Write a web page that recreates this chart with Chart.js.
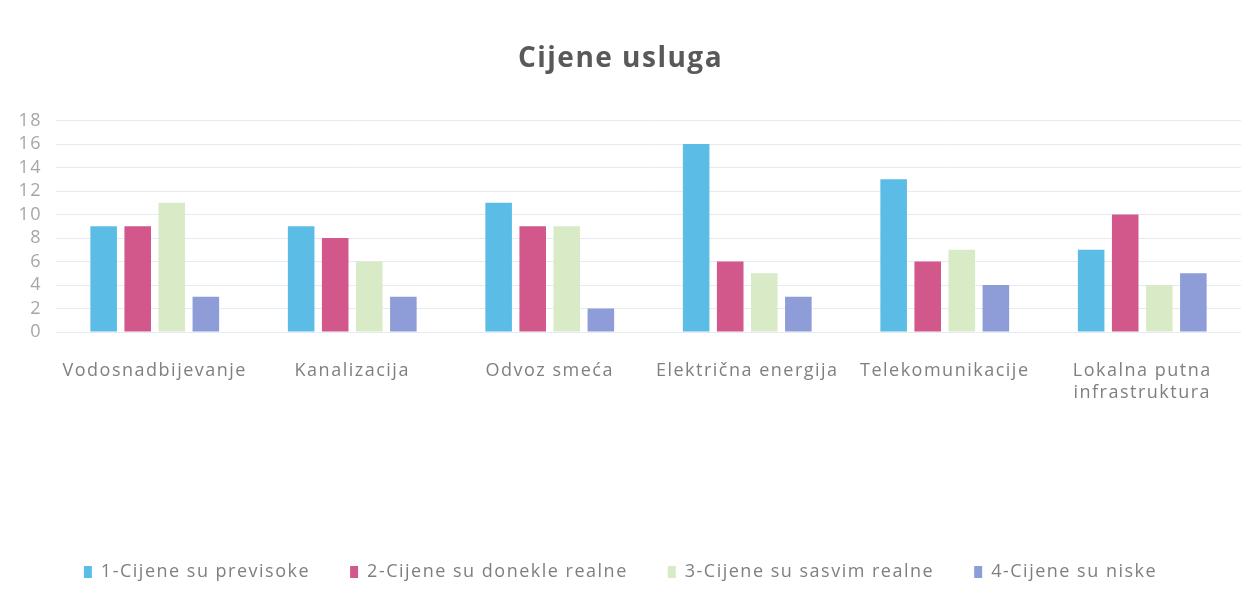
<!DOCTYPE html>
<html>
<head>
<meta charset="utf-8">
<script src="https://cdn.jsdelivr.net/npm/chart.js"></script>
<style>
  html, body { margin: 0; padding: 0; background: #ffffff; }
  #wrap { width: 1243px; height: 603px; position: relative; }
</style>
</head>
<body>
<div id="wrap"><canvas id="chart"></canvas></div>
<script>
// podaci
const categories = [
    'Vodosnadbijevanje',
    'Kanalizacija',
    'Odvoz smeća',
    'Električna energija',
    'Telekomunikacije',
    ['Lokalna putna', 'infrastruktura']
];
const seriesNames = [
    '1-Cijene su previsoke',
    '2-Cijene su donekle realne',
    '3-Cijene su sasvim realne',
    '4-Cijene su niske'
];
const previsoke = [9, 9, 11, 16, 13, 7];
const donekleRealne = [9, 8, 9, 6, 6, 10];
const sasvimRealne = [11, 6, 9, 5, 7, 4];
const niske = [3, 3, 2, 3, 4, 5];
const yTicks = [0, 2, 4, 6, 8, 10, 12, 14, 16, 18];

const colors = ['#5bbde6', '#d2588c', '#d9eac6', '#8e9dd8'];
const values = [previsoke, donekleRealne, sasvimRealne, niske];

const datasets = seriesNames.map((name, i) => ({
    label: name,
    data: values[i],
    backgroundColor: colors[i],
    borderWidth: 0,
    categoryPercentage: 0.69,
    barPercentage: 0.78
}));

const fontFamily = '"Open Sans", "DejaVu Sans", sans-serif';

// razmak između slova (skenirani tekst je razvučen)
const spacingPlugin = {
    id: 'spacing',
    beforeLayout(chart) { chart.ctx.letterSpacing = '1.5px'; },
    beforeDraw(chart) { chart.ctx.letterSpacing = '1.5px'; }
};

new Chart(document.getElementById('chart'), {
    type: 'bar',
    data: { labels: categories, datasets: datasets },
    plugins: [spacingPlugin],
    options: {
        responsive: true,
        maintainAspectRatio: false,
        animation: false,
        layout: { padding: { left: 0, right: 2, top: 0, bottom: 12 } },
        plugins: {
            title: {
                display: true,
                text: 'Cijene usluga',
                color: '#595959',
                font: { family: fontFamily, size: 28, weight: 'bold' },
                padding: { top: 42, bottom: 45 }
            },
            legend: {
                position: 'bottom',
                labels: {
                    color: '#7f7f7f',
                    font: { family: fontFamily, size: 18 },
                    boxWidth: 8,
                    boxHeight: 12,
                    padding: 40
                }
            },
            tooltip: { enabled: false }
        },
        scales: {
            x: {
                grid: { display: false },
                border: { display: false },
                ticks: {
                    color: '#7f7f7f',
                    font: { family: fontFamily, size: 18 },
                    padding: 20,
                    maxRotation: 0,
                    autoSkip: false
                },
                afterFit: (scale) => { scale.height = 191; }
            },
            y: {
                min: 0,
                max: 18,
                afterBuildTicks: (scale) => { scale.ticks = yTicks.map(v => ({ value: v })); },
                grid: { color: '#e6ebf1', drawTicks: false },
                border: { display: false },
                ticks: {
                    color: '#a6a6a6',
                    font: { family: fontFamily, size: 18 },
                    padding: 14,
                    autoSkip: false
                },
                afterFit: (scale) => { scale.width = 56; }
            }
        }
    }
});
</script>
</body>
</html>
